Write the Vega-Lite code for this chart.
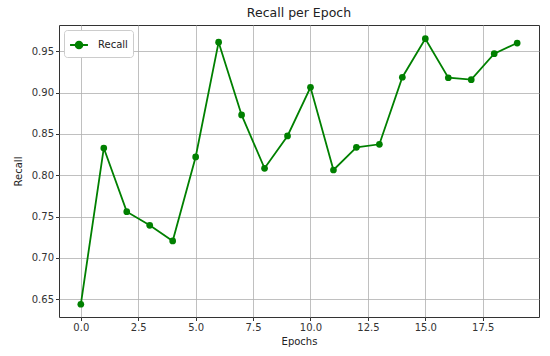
{
  "$schema": "https://vega.github.io/schema/vega-lite/v6.json",
  "width": 480,
  "height": 292,
  "autosize": {"type": "none"},
  "padding": {"left": 59, "top": 25, "right": 11, "bottom": 39},
  "background": "white",
  "title": {"text": "Recall per Epoch", "font": "DejaVu Sans", "fontSize": 12.5, "fontWeight": "normal", "color": "#222", "offset": 6},
  "config": {
    "view": {"stroke": "#333", "strokeWidth": 1},
    "axis": {"labelFont": "DejaVu Sans", "titleFont": "DejaVu Sans", "labelFontSize": 10, "titleFontSize": 10, "titleFontWeight": "normal", "labelColor": "#333", "titleColor": "#222", "gridColor": "#b0b0b0", "gridWidth": 0.8, "tickColor": "#333", "tickSize": 3.5, "domain": false}
  },
  "data": {"values": [
    {"epoch": 0, "recall": 0.644},
    {"epoch": 1, "recall": 0.833},
    {"epoch": 2, "recall": 0.756},
    {"epoch": 3, "recall": 0.7395},
    {"epoch": 4, "recall": 0.7206},
    {"epoch": 5, "recall": 0.8222},
    {"epoch": 6, "recall": 0.961},
    {"epoch": 7, "recall": 0.873},
    {"epoch": 8, "recall": 0.8085},
    {"epoch": 9, "recall": 0.8476},
    {"epoch": 10, "recall": 0.9065},
    {"epoch": 11, "recall": 0.8064},
    {"epoch": 12, "recall": 0.8339},
    {"epoch": 13, "recall": 0.8375},
    {"epoch": 14, "recall": 0.9186},
    {"epoch": 15, "recall": 0.9652},
    {"epoch": 16, "recall": 0.918},
    {"epoch": 17, "recall": 0.9157},
    {"epoch": 18, "recall": 0.9471},
    {"epoch": 19, "recall": 0.96}
  ]},
  "encoding": {
    "x": {"field": "epoch", "type": "quantitative", "scale": {"domain": [-0.95, 19.95], "nice": false, "zero": false},
      "axis": {"title": "Epochs", "values": [0, 2.5, 5, 7.5, 10, 12.5, 15, 17.5], "format": ".1f", "titlePadding": 4}},
    "y": {"field": "recall", "type": "quantitative", "scale": {"domain": [0.6286, 0.9818], "nice": false, "zero": false},
      "axis": {"title": "Recall", "values": [0.65, 0.7, 0.75, 0.8, 0.85, 0.9, 0.95], "format": ".2f", "titlePadding": 8}},
    "color": {"datum": "Recall", "scale": {"range": ["#008000"]},
      "legend": {"title": null, "orient": "top-left", "offset": 5, "labelFont": "DejaVu Sans", "labelFontSize": 10, "labelColor": "#222", "labelOffset": 9,
        "symbolType": "M-1,0H1M0.38,0A0.38,0.38,0,1,1,-0.38,0A0.38,0.38,0,1,1,0.38,0",
        "symbolSize": 320, "symbolStrokeWidth": 1.8, "symbolFillColor": "#008000",
        "fillColor": "white", "strokeColor": "#ccc", "cornerRadius": 3, "padding": 5}}
  },
  "layer": [
    {"mark": {"type": "line", "strokeWidth": 1.8}},
    {"mark": {"type": "point", "filled": true, "opacity": 1, "size": 45, "shape": "circle"}}
  ]
}
